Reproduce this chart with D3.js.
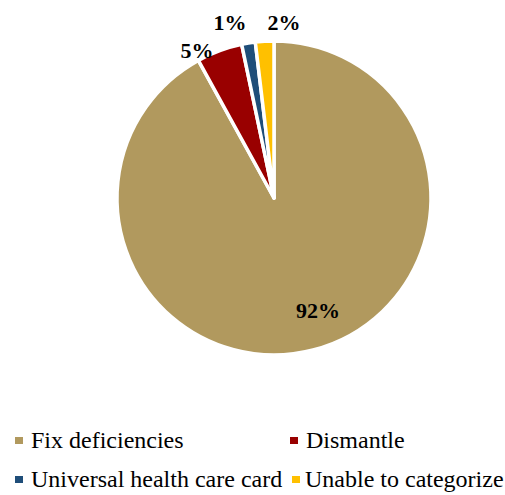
<!DOCTYPE html>
<html><head><meta charset="utf-8">
<script src="https://cdn.jsdelivr.net/npm/d3@7"></script>
<style>body{margin:0;background:#fff}</style>
</head><body>
<svg id="c" width="505" height="495"></svg>
<script>
const categories = ["Fix deficiencies","Dismantle","Universal health care card","Unable to categorize"];
const values = [92.0, 4.7, 1.4, 1.9];
const colors = ["#B1995E","#990000","#1F4E79","#FFC000"];

const svg = d3.select("#c");
const cx = 274, cy = 198, r = 157;
const pie = d3.pie().sort(null).value(d=>d)(values);
const arc = d3.arc().innerRadius(0).outerRadius(r);
const g = svg.append("g").attr("transform",`translate(${cx},${cy})`);
g.selectAll("path").data(pie).join("path")
  .attr("d",arc)
  .attr("fill",(d,i)=>colors[i])
  .attr("stroke","#fff").attr("stroke-width",3.5).attr("stroke-linejoin","round");

// label centers relative to pie center (manually placed, as in the source)
const labelPos = [[44,112],[-77,-148],[-44,-176],[10,-176]];
g.selectAll("text.l").data(pie).join("text").attr("class","l")
  .attr("x",(d,i)=>labelPos[i][0])
  .attr("y",(d,i)=>labelPos[i][1])
  .attr("text-anchor","middle").attr("dominant-baseline","central")
  .attr("font-family","'Liberation Serif','Times New Roman',serif")
  .attr("font-weight","bold").attr("font-size",22).attr("fill","#000")
  .text(d=>Math.round(d.data)+"%");

const legPos = [[15,31,448],[290,306,448],[15,31,487],[292,305,487]];
const lg = svg.append("g");
categories.forEach((c,i)=>{
  const [sx,tx,y]=legPos[i];
  lg.append("rect").attr("x",sx).attr("y",y-11).attr("width",8).attr("height",7).attr("fill",colors[i]);
  lg.append("text").attr("x",tx).attr("y",y)
    .attr("font-family","'Liberation Serif','Times New Roman',serif")
    .attr("font-size",24).attr("fill","#000").text(c);
});
</script>
</body></html>
